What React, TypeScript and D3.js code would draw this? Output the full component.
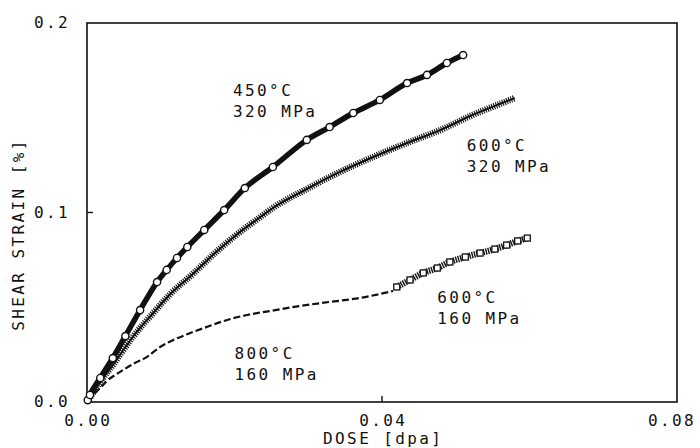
import React, { useEffect, useRef } from "react";
import * as d3 from "d3";

// dose [dpa], shear strain [%]
const dose450 = [0.0001, 0.0004, 0.0018, 0.0035, 0.0052, 0.0072, 0.0095, 0.0108, 0.0122, 0.0136, 0.0159, 0.0186, 0.0214, 0.0252, 0.0298, 0.0329, 0.0361, 0.0397, 0.0434, 0.0461, 0.0488, 0.051];
const strain450 = [0.001, 0.0037, 0.0127, 0.0232, 0.0348, 0.0485, 0.0633, 0.0697, 0.076, 0.0818, 0.0908, 0.1013, 0.1129, 0.124, 0.1383, 0.1451, 0.1525, 0.1594, 0.1683, 0.1726, 0.1789, 0.1831];

const dose600a = [0.0001, 0.0008, 0.0018, 0.0035, 0.0062, 0.0091, 0.0113, 0.0145, 0.0172, 0.0199, 0.0235, 0.0252, 0.0298, 0.0343, 0.0388, 0.0434, 0.0479, 0.0523, 0.056, 0.058];
const strain600a = [0.0005, 0.0047, 0.0106, 0.0195, 0.0343, 0.0475, 0.057, 0.0681, 0.0781, 0.0871, 0.0976, 0.1024, 0.1124, 0.1214, 0.1293, 0.1367, 0.1435, 0.1515, 0.1573, 0.1604];

const dose800 = [0.0001, 0.0007, 0.0018, 0.0027, 0.0038, 0.0049, 0.0065, 0.0081, 0.0099, 0.0117, 0.014, 0.0159, 0.019, 0.0217, 0.0248, 0.0289, 0.0329, 0.037, 0.0415];
const strain800 = [0.0005, 0.0032, 0.0074, 0.0111, 0.0142, 0.0169, 0.0206, 0.0237, 0.029, 0.0327, 0.0364, 0.0391, 0.0433, 0.0459, 0.048, 0.0507, 0.0528, 0.0549, 0.0586];

const dose600b = [0.042, 0.0438, 0.0456, 0.0475, 0.0492, 0.0513, 0.0533, 0.0553, 0.0569, 0.0584, 0.0597];
const strain600b = [0.0607, 0.0644, 0.0681, 0.0707, 0.0739, 0.0765, 0.0786, 0.0807, 0.0828, 0.085, 0.0865];

const xTicks = [0, 0.04, 0.08];
const xTickLabels = ["0.00", "0.04", "0.08"];
const yTicks = [0, 0.1, 0.2];
const yTickLabels = ["0.0", "0.1", "0.2"];

const labels = [
  { x: 0.0198, y: 0.1615, lines: ["450°C", "320 MPa"] },
  { x: 0.0515, y: 0.1325, lines: ["600°C", "320 MPa"] },
  { x: 0.0475, y: 0.0525, lines: ["600°C", "160 MPa"] },
  { x: 0.0200, y: 0.0225, lines: ["800°C", "160 MPa"] },
];

const W = 700, H = 448;
const margin = { top: 23, right: 23, bottom: 46, left: 87 };
const FONT = "'DejaVu Sans Mono', monospace";
const LS = 2.4;

const App = () => {
  const ref = useRef(null);

  useEffect(() => {
    const svg = d3.select(ref.current);
    svg.selectAll("*").remove();

    const x = d3.scaleLinear().domain([0, 0.08]).range([margin.left, W - margin.right]);
    const y = d3.scaleLinear().domain([0, 0.2]).range([H - margin.bottom, margin.top]);

    const zip = (xs, ys) => xs.map((d, i) => [d, ys[i]]);
    const line = d3.line().x(d => x(d[0])).y(d => y(d[1])).curve(d3.curveMonotoneX);

    // frame
    svg.append("rect")
      .attr("x", x(0)).attr("y", y(0.2))
      .attr("width", x(0.08) - x(0)).attr("height", y(0) - y(0.2))
      .attr("fill", "none").attr("stroke", "#111").attr("stroke-width", 1.6);

    // inward ticks
    svg.append("line").attr("x1", x(0.04)).attr("x2", x(0.04))
      .attr("y1", y(0)).attr("y2", y(0) - 6).attr("stroke", "#111").attr("stroke-width", 1.4);
    svg.append("line").attr("x1", x(0)).attr("x2", x(0) + 6)
      .attr("y1", y(0.1)).attr("y2", y(0.1)).attr("stroke", "#111").attr("stroke-width", 1.4);

    const txt = (g) => g.attr("font-family", FONT).attr("font-size", 16)
      .attr("letter-spacing", LS).attr("fill", "#111");

    // middle anchor with letter-spacing leaves a trailing gap, so nudge right
    svg.append("g").selectAll("text").data(xTicks).join("text")
      .attr("x", d => Math.min(x(d) + LS / 2, W - 28)).attr("y", y(0) + 24)
      .attr("text-anchor", "middle")
      .text((d, i) => xTickLabels[i])
      .call(txt);

    svg.append("g").selectAll("text").data(yTicks).join("text")
      .attr("x", x(0) - 17).attr("y", d => y(d) + 5)
      .attr("text-anchor", "end")
      .text((d, i) => yTickLabels[i])
      .call(txt);

    svg.append("text").attr("x", x(0.04) + LS / 2).attr("y", H - 4)
      .attr("text-anchor", "middle").text("DOSE [dpa]").call(txt);

    svg.append("text")
      .attr("transform", `translate(24,${y(0.1) + 22}) rotate(-90)`)
      .attr("text-anchor", "middle").text("SHEAR STRAIN [%]").call(txt);

    // 800C 160 MPa: dashed trace
    svg.append("path").datum(zip(dose800, strain800))
      .attr("d", line).attr("fill", "none").attr("stroke", "#111")
      .attr("stroke-width", 2.2).attr("stroke-dasharray", "7 3");

    // 600C 320 MPa: hatched band
    const d600a = zip(dose600a, strain600a);
    svg.append("path").datum(d600a)
      .attr("d", line).attr("fill", "none").attr("stroke", "#111").attr("stroke-width", 2);
    svg.append("path").datum(d600a)
      .attr("d", line).attr("fill", "none").attr("stroke", "#111")
      .attr("stroke-width", 6.5).attr("stroke-dasharray", "1.1 1.2");

    // 450C 320 MPa: circles
    const d450 = zip(dose450, strain450);
    svg.append("path").datum(d450)
      .attr("d", line).attr("fill", "none").attr("stroke", "#111").attr("stroke-width", 5.5);
    svg.append("g").selectAll("circle").data(d450).join("circle")
      .attr("cx", d => x(d[0])).attr("cy", d => y(d[1])).attr("r", 3.6)
      .attr("fill", "#fff").attr("stroke", "#111").attr("stroke-width", 1.4);

    // 600C 160 MPa: small squares
    const d600b = zip(dose600b, strain600b);
    svg.append("path").datum(d600b)
      .attr("d", line).attr("fill", "none").attr("stroke", "#111")
      .attr("stroke-width", 6.5).attr("stroke-dasharray", "1.4 1");
    svg.append("g").selectAll("rect").data(d600b).join("rect")
      .attr("x", d => x(d[0]) - 3).attr("y", d => y(d[1]) - 3)
      .attr("width", 6).attr("height", 6)
      .attr("fill", "#fff").attr("stroke", "#111").attr("stroke-width", 1.3);

    // annotations
    labels.forEach(l => {
      const t = svg.append("text").attr("x", x(l.x)).attr("y", y(l.y)).call(txt);
      l.lines.forEach((s, i) => {
        t.append("tspan").attr("x", x(l.x)).attr("dy", i === 0 ? 0 : 21).text(s);
      });
    });
  }, []);

  return (
    <svg ref={ref} width={W} height={H}
      style={{ position: "absolute", left: 0, top: 0, background: "#fff" }} />
  );
};

export default App;
